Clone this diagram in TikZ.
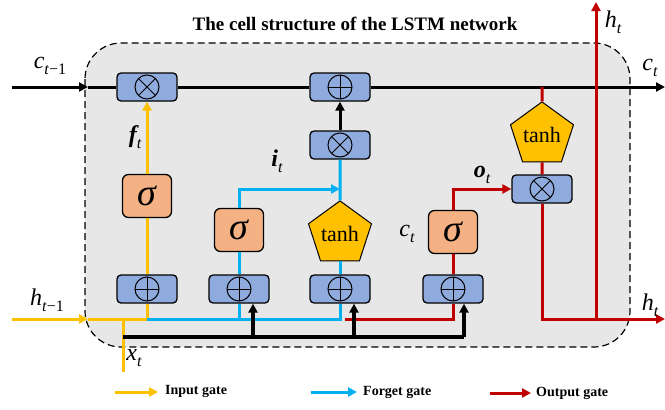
\documentclass[tikz,border=0pt]{standalone}
\usepackage{fontspec}
\setmainfont{Liberation Serif}
\usetikzlibrary{arrows.meta,shapes.geometric}
\definecolor{ygate}{HTML}{FFC000}
\definecolor{bgate}{HTML}{00B0F0}
\definecolor{rgate}{HTML}{C00000}
\definecolor{opblue}{HTML}{8FAADC}
\definecolor{sigfill}{HTML}{F4B183}
\definecolor{cellgray}{HTML}{E7E7E7}
% label with a lowered subscript
\newcommand\lsub[2]{#1\raisebox{-6pt}{\fontsize{16}{16}\selectfont #2}}
\begin{document}
\begin{tikzpicture}[x=1pt,y=-1pt,
  arr/.style={-{Triangle[length=9pt,width=9pt]}},
  cell/.style={draw=black, dash pattern=on 7pt off 4pt, line width=1.2pt, fill=cellgray, rounded corners=36pt},
  title/.style={font=\fontsize{19}{19}\selectfont\bfseries},
  opbox/.style={draw=black, line width=1.3pt, rounded corners=4pt, fill=opblue,
    minimum width=60pt, minimum height=28pt, inner sep=0pt},
  opplus/.style={opbox, path picture={
    \draw[line width=1pt] (path picture bounding box.center) circle (12pt);
    \draw[line width=1pt] ([xshift=-12pt]path picture bounding box.center) -- ([xshift=12pt]path picture bounding box.center);
    \draw[line width=1pt] ([yshift=-12pt]path picture bounding box.center) -- ([yshift=12pt]path picture bounding box.center);}},
  opx/.style={opbox, path picture={
    \draw[line width=1pt] (path picture bounding box.center) circle (12pt);
    \draw[line width=1pt] ([xshift=-8.5pt,yshift=-8.5pt]path picture bounding box.center) -- ([xshift=8.5pt,yshift=8.5pt]path picture bounding box.center);
    \draw[line width=1pt] ([xshift=-8.5pt,yshift=8.5pt]path picture bounding box.center) -- ([xshift=8.5pt,yshift=-8.5pt]path picture bounding box.center);}},
  sig/.style={draw=black, line width=1.3pt, rounded corners=6pt, fill=sigfill,
    minimum width=49pt, minimum height=43pt, inner sep=0pt,
    font=\fontsize{38}{38}\selectfont\itshape},
  pent/.style={regular polygon, regular polygon sides=5, draw=black, line width=1pt,
    fill=ygate, inner sep=0pt, font=\fontsize{22}{22}\selectfont},
  cline/.style={draw=black, line width=3pt},
  yl/.style={draw=ygate, line width=3pt},
  bl/.style={draw=bgate, line width=3pt},
  rd/.style={draw=rgate, line width=3pt},
  bk/.style={draw=black, line width=3.5pt},
  lab/.style={font=\fontsize{24}{24}\selectfont\itshape, inner sep=0pt},
  leg/.style={font=\fontsize{14}{14}\selectfont\bfseries, anchor=west, inner sep=0pt}
]
\useasboundingbox (0,0) rectangle (665,410);

% cell outline and title
\draw[cell] (85,43) rectangle (630,347);
\node[title] (title) at (355,24) {The cell structure of the LSTM network};

% pointwise operators
\node[opx] (fx) at (147,87) {};
\node[opplus] (cp) at (340,87) {};
\node[opx] (ix) at (340,145) {};
\node[opx] (ox) at (542,189) {};
\node[opplus] (a1) at (147,289) {};
\node[opplus] (a2) at (239,289) {};
\node[opplus] (a3) at (340,289) {};
\node[opplus] (a4) at (453,289) {};

% activations
\node[sig] (s1) at (147,196) {σ};
\node[sig] (s2) at (239,230) {σ};
\node[sig] (s3) at (453,232) {σ};
\node[pent, minimum size=64pt] (t1) at (340,234) {tanh};
\node[pent, minimum size=58pt] (t2) at (542,135) {tanh};

% junction points
\coordinate (cin) at (12,87);
\coordinate (cedge) at (88,87);
\coordinate (cout) at (665,87);
\coordinate (hin) at (12,319);
\coordinate (hedge) at (88,319);
\coordinate (hjoin) at (147,319);
\coordinate (xin) at (123,372);
\coordinate (xjoin) at (123,319);
\coordinate (busl) at (123,337);
\coordinate (rstart) at (345,319);
\coordinate (hout) at (665,319);
\coordinate (hup) at (596,319);
\coordinate (htop) at (596,2);
\coordinate (iturn) at (240,189);
\coordinate (b2) at ([xshift=14pt]a2.south);
\coordinate (b3) at ([xshift=14pt]a3.south);
\coordinate (b4) at ([xshift=11pt]a4.south);

% cell state line
\draw[cline,arr] (cin) -- (cedge);
\draw[cline] (cedge) -- (fx.west);
\draw[cline] (fx.east) -- (cp.west);
\draw[cline,arr] (cp.east) -- (cout);
\draw[bk,line width=3pt,arr] (ix) -- (cp);

% input path
\draw[yl,arr] (hin) -- (hedge);
\draw[yl] (hedge) -- (hjoin) -- (a1.south);
\draw[yl] (xin) -- (xjoin);
\draw[yl] (a1) -- (s1);
\draw[yl,arr] (s1) -- (fx);

% forget path
\draw[bl] (hjoin) -- (rstart -| a3.south) -- (a3.south);
\draw[bl] (a2.south |- hjoin) -- (a2.south);
\draw[bl] (a2) -- (s2);
\draw[bl,arr] (s2.north) |- (ix.south |- iturn);
\draw[bl] (a3) -- (t1);
\draw[bl] (t1.north) -- (ix.south);

% output path
\draw[rd] (rstart) -| (a4.south);
\draw[rd] (a4) -- (s3);
\draw[rd,arr] (s3.north) |- (ox.west);
\draw[rd] (ox.north |- cp) -- (t2.north);
\draw[rd] (t2) -- (ox);
\draw[rd,arr] (ox.south) |- (hout);
\draw[rd,arr] (hup) -- (htop);

% shared input bus
\draw[bk] (busl) -- (b4 |- busl);
\draw[bk,arr] (b2 |- busl) -- (b2);
\draw[bk,arr] (b3 |- busl) -- (b3);
\draw[bk,arr] (b4 |- busl) -- (b4);

% labels
\node[lab] (lc0) at (50,66) {\lsub{c}{\textit{t}\textup{−1}}};
\node[lab] (lc1) at (650,68) {\lsub{c}{\textit{t}}};
\node[lab] (lh0) at (47,300) {\lsub{h}{\textit{t}\textup{−1}}};
\node[lab] (lh1) at (613,22) {\lsub{h}{\textit{t}}};
\node[lab] (lh2) at (650,305) {\lsub{h}{\textit{t}}};
\node[lab] (lx) at (134,358) {\lsub{x}{\textit{t}}};
\node[lab] (lf) at (135,137) {\lsub{\textbf{f}}{\textit{t}}};
\node[lab] (li) at (277,161) {\lsub{\textbf{i}}{\textit{t}}};
\node[lab] (lo) at (482,175) {\lsub{\textbf{o}}{\textit{t}}};
\node[lab] (lct) at (407,234) {\lsub{c}{\textit{t}}};

% legend
\coordinate (ly0) at (115,392); \coordinate (ly1) at (158,392);
\coordinate (lb0) at (311,392); \coordinate (lb1) at (357,392);
\coordinate (lr0) at (490,393); \coordinate (lr1) at (531,393);
\draw[yl,arr] (ly0) -- (ly1);
\draw[bl,arr] (lb0) -- (lb1);
\draw[rd,arr] (lr0) -- (lr1);
\node[leg] (ty) at (165,391) {Input gate};
\node[leg] (tb) at (363,392) {Forget gate};
\node[leg] (tr) at (536,393) {Output gate};
\end{tikzpicture}
\end{document}
